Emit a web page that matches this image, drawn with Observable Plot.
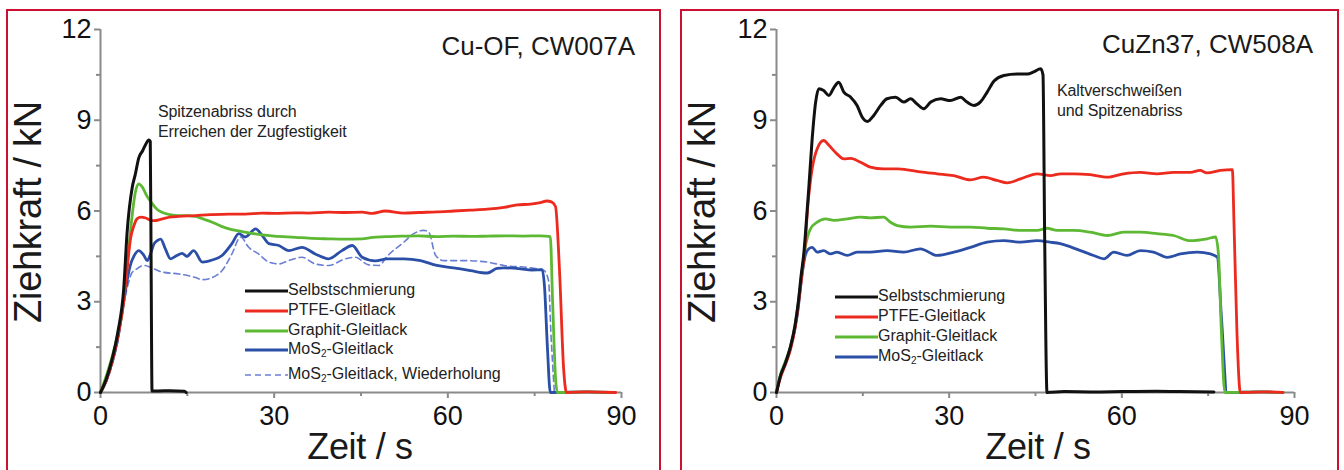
<!DOCTYPE html>
<html>
<head>
<meta charset="utf-8">
<script src="https://cdn.jsdelivr.net/npm/d3@7"></script>
<script src="https://cdn.jsdelivr.net/npm/@observablehq/plot@0.6"></script>
<style>
  html, body { margin: 0; padding: 0; background: #fff; }
  #wrap { position: relative; width: 1344px; height: 470px; overflow: hidden; font-family: "Liberation Sans", Arial, sans-serif; color: #1a1a1a; }
  .panel { position: absolute; top: 0; }
  .frame { position: absolute; box-sizing: border-box; border: 2px solid #cc1130; border-bottom: none; height: 480px; }
  .ttl { position: absolute; font-size: 26px; line-height: 26px; white-space: nowrap; letter-spacing: 0; }
  .ann { position: absolute; font-size: 16px; line-height: 20px; white-space: nowrap; letter-spacing: -0.1px; color: #222; }
  .ylab { position: absolute; font-size: 38px; line-height: 38px; white-space: nowrap; transform: translate(-50%, -50%) rotate(-90deg); letter-spacing: -0.3px; }
  .xlab { position: absolute; font-size: 36px; line-height: 36px; white-space: nowrap; transform: translateX(-50%); letter-spacing: -0.3px; }
  .leg { position: absolute; display: flex; align-items: center; height: 20px; font-size: 16px; line-height: 20px; white-space: nowrap; letter-spacing: 0; color: #222; }
  .leg span { position: relative; top: -1px; }
  .leg svg { display: block; }
  .leg sub { font-size: 10px; vertical-align: -3px; line-height: 0; }
</style>
</head>
<body>
<div id="wrap"></div>
<script>
// ---------- tick labels ----------
const xMajor = [0, 30, 60, 90];
const xMinor = [15, 45, 75];
const yMajor = [0, 3, 6, 9, 12];
const yMinor = [1.5, 4.5, 7.5, 10.5];

// ---------- series names ----------
const seriesNames = ["Selbstschmierung", "PTFE-Gleitlack", "Graphit-Gleitlack", "MoS2-Gleitlack", "MoS2-Gleitlack, Wiederholung"];
const panelTitles = ["Cu-OF, CW007A", "CuZn37, CW508A"];
const annotations = [["Spitzenabriss durch", "Erreichen der Zugfestigkeit"], ["Kaltverschweißen", "und Spitzenabriss"]];
const xTitle = "Zeit / s";
const yTitle = "Ziehkraft / kN";

// ---------- left panel data: [Zeit s, Ziehkraft kN] ----------
const leftSelbst = [[0,0],[1,0.45],[2,1.1],[3,2.0],[4,3.4],[4.6,5.3],[5.5,6.8],[6.0,7.2],[6.6,7.75],[7.3,8.0],[7.8,8.2],[8.35,8.35],[8.6,8.3],[8.75,4.0],[8.9,0.05],[10,0.05],[12,0.06],[14.5,0.04],[14.8,0]];
const leftPTFE = [[0,0],[1,0.4],[2,1.0],[3,1.85],[4,3.0],[4.6,4.1],[5.2,5.1],[5.75,5.5],[6.3,5.74],[7.0,5.8],[7.8,5.77],[8.6,5.7],[9.2,5.68],[10.7,5.74],[12,5.8],[13.5,5.82],[16.4,5.85],[19,5.88],[22.2,5.9],[25,5.9],[27.9,5.93],[30,5.92],[33.7,5.94],[36,5.93],[39.4,5.96],[42,5.95],[45.2,5.96],[47,5.92],[49.2,6.0],[52.4,5.93],[55,5.95],[58.1,5.97],[61,6.0],[63.9,6.03],[66.8,6.06],[69.7,6.12],[72,6.2],[74.3,6.23],[76,6.28],[77.1,6.33],[77.9,6.3],[78.6,6.15],[79.3,4.0],[80.0,0.8],[80.5,0],[84,0.02],[89,0]];
const leftGraphit = [[0,0],[1,0.55],[2,1.17],[3,1.95],[3.7,2.6],[4.3,3.6],[4.9,4.8],[5.5,5.9],[6.0,6.6],[6.6,6.9],[7.2,6.8],[8.0,6.5],[8.9,6.25],[9.8,6.05],[10.7,5.95],[12,5.88],[13.5,5.85],[15,5.85],[16.4,5.82],[18,5.72],[19.3,5.63],[20.8,5.5],[22.2,5.41],[23.6,5.35],[25,5.3],[27.9,5.21],[30,5.17],[33.7,5.13],[36,5.1],[39.4,5.08],[42,5.07],[45.2,5.08],[47,5.13],[49.2,5.15],[52,5.17],[55,5.18],[58,5.15],[61,5.17],[64,5.16],[67,5.17],[70,5.18],[73,5.17],[76,5.18],[77.7,5.15],[78.1,3.0],[78.6,0.5],[78.9,0],[84,0.02],[88,0]];
const leftMoS2 = [[0,0],[1,0.4],[2,1.0],[3,1.8],[4,3.0],[4.9,4.0],[5.3,4.3],[5.75,4.5],[6.6,4.69],[7.5,4.53],[8.06,4.36],[8.6,4.55],[9.2,4.9],[9.8,5.02],[10.4,5.07],[11.2,4.75],[12.1,4.42],[13.2,4.53],[14.1,4.6],[14.9,4.5],[16.1,4.69],[17.6,4.31],[19.3,4.38],[21,4.53],[22.7,4.92],[23.9,5.25],[25,5.14],[26.8,5.41],[27.9,5.2],[29.1,4.92],[30.8,4.86],[32.5,4.69],[34.8,4.8],[37.1,4.58],[39.4,4.42],[41.7,4.69],[43.5,4.86],[45.2,4.47],[47.5,4.35],[49.5,4.42],[52.4,4.42],[55.3,4.36],[58.1,4.2],[61,4.12],[63.9,4.03],[66.8,3.95],[68.5,4.1],[69.7,4.12],[72.6,4.09],[74.5,4.05],[76.3,4.06],[76.7,3.5],[77.2,1.5],[77.7,0],[84,0.02],[88,0]];
const leftMoS2Rep = [[0,0],[1,0.35],[2,0.9],[3,1.7],[4,2.9],[4.8,3.6],[5.4,3.95],[6.0,4.05],[7.5,4.2],[8.6,4.14],[10.7,3.98],[13.5,3.92],[16.4,3.8],[17.6,3.73],[19.3,3.8],[21,4.03],[22.7,4.58],[24.2,5.14],[25.6,4.8],[27.3,4.58],[29.1,4.31],[30.8,4.25],[32.5,4.36],[34.8,4.47],[37.1,4.25],[39.4,4.2],[42.3,4.42],[44,4.47],[46.3,4.22],[48.1,4.2],[49.5,4.5],[52.4,4.97],[54.1,5.25],[55.8,5.36],[56.7,5.3],[57.9,4.53],[59.3,4.36],[62.8,4.36],[66.8,4.31],[69.7,4.2],[74.3,4.12],[76.6,4.03],[77.4,3.7],[77.8,2.0],[78.4,0]];

// ---------- right panel data ----------
const rightSelbst = [[0,0],[0.7,0.56],[1.5,0.95],[2.4,1.5],[3.2,2.2],[3.8,3.0],[4.3,3.9],[4.75,4.6],[5.2,5.7],[5.6,6.73],[6.2,8.39],[6.8,9.6],[7.35,10.04],[8.2,9.98],[9.1,9.82],[10,10.09],[10.8,10.26],[11.7,9.93],[12.9,9.76],[14,9.49],[14.9,9.1],[15.8,8.96],[16.9,9.16],[18.1,9.49],[19.2,9.71],[20.7,9.76],[22.1,9.6],[23.3,9.71],[24.4,9.54],[25.6,9.38],[26.8,9.6],[28.5,9.71],[30.2,9.65],[32,9.76],[33.1,9.6],[34.3,9.49],[35.4,9.6],[36.6,9.93],[37.8,10.3],[39.5,10.48],[41.8,10.53],[43.6,10.53],[44.7,10.6],[45.9,10.7],[46.3,10.5],[46.6,5],[47.0,0],[50,0.03],[55,0.02],[60,0.03],[66,0.04],[70,0.03],[76,0.02]];
const rightPTFE = [[0,0],[0.7,0.5],[1.5,0.9],[2.4,1.4],[3.2,2.1],[3.8,2.9],[4.3,3.7],[4.9,4.7],[5.45,6.18],[6.2,7.4],[7.07,8.06],[8.2,8.33],[9.1,8.17],[10.5,7.89],[11.7,7.72],[12.9,7.74],[14.6,7.61],[16.3,7.45],[18.6,7.39],[21,7.39],[23.3,7.34],[25,7.29],[27.9,7.23],[30.8,7.17],[33.7,7.03],[36,7.12],[38.3,7.01],[40.1,6.93],[42.4,7.06],[45.3,7.23],[47.6,7.17],[49.4,7.23],[51.7,7.23],[54.5,7.2],[57.5,7.12],[60.3,7.23],[63.2,7.28],[66.1,7.23],[69,7.28],[71.9,7.28],[73.6,7.34],[74.8,7.26],[77.1,7.34],[79.2,7.37],[79.5,5.5],[80.0,2],[80.6,0],[85,0.02],[88,0]];
const rightGraphit = [[0,0],[0.7,0.6],[1.5,1.0],[2.4,1.5],[3.2,2.2],[3.8,3.0],[4.3,3.8],[4.9,4.7],[5.4,5.15],[5.9,5.41],[7.07,5.63],[8.5,5.74],[10,5.69],[12.3,5.74],[14.6,5.8],[16.3,5.77],[18.6,5.8],[19.8,5.63],[21,5.52],[23.3,5.47],[26.8,5.5],[30.2,5.47],[33.7,5.47],[36.6,5.43],[39.5,5.41],[42.4,5.36],[45.3,5.36],[47,5.43],[48.8,5.36],[51.7,5.36],[54.5,5.3],[57.5,5.19],[60.3,5.3],[63.2,5.3],[66.1,5.25],[69,5.19],[71.9,5.02],[74.8,5.08],[76.3,5.14],[76.8,4.53],[77.3,2.0],[77.9,0],[84,0.02],[88,0]];
const rightMoS2 = [[0,0],[0.7,0.56],[1.5,0.95],[2.4,1.45],[3.6,2.55],[4.5,3.98],[5.0,4.53],[5.6,4.75],[6.2,4.8],[7.07,4.64],[8.2,4.69],[9.4,4.58],[10.5,4.64],[12.3,4.53],[14,4.64],[16.3,4.64],[19.2,4.69],[22.1,4.64],[25,4.75],[27.9,4.53],[30.8,4.64],[33.7,4.8],[36.6,4.97],[39.5,5.02],[42.4,4.97],[45.3,5.02],[47.5,4.97],[49.3,4.92],[52.8,4.69],[55.1,4.53],[56.9,4.42],[58.6,4.64],[60.9,4.53],[63.2,4.69],[65.5,4.64],[67.9,4.47],[70.2,4.58],[73.1,4.64],[75.4,4.58],[76.6,4.47],[77.3,2.5],[78.3,0],[84,0.02],[88,0]];

// ---------- styles ----------
const COL = { self: "#111111", ptfe: "#ec2a1e", graphit: "#5db933", mos2: "#2b4fa6", rep: "#6a7fd4" };
const AXIS = "#8a8a8a";
const FONT = '"Liberation Sans", Arial, sans-serif';

const wrap = document.getElementById("wrap");

function makePanel(cfg) {
  const series = [
    ...(cfg.rep ? [{ d: cfg.rep, stroke: COL.rep, w: 1.6, dash: "6,4" }] : []),
    { d: cfg.mos2, stroke: COL.mos2, w: 2.8 },
    { d: cfg.graphit, stroke: COL.graphit, w: 2.8 },
    { d: cfg.ptfe, stroke: COL.ptfe, w: 2.8 },
    { d: cfg.self, stroke: COL.self, w: 3 }
  ];
  const chart = Plot.plot({
    width: cfg.width, height: 470,
    marginLeft: cfg.ml, marginRight: cfg.mr, marginTop: 29, marginBottom: 78,
    x: { domain: [0, 90] },
    y: { domain: [0, 12] },
    style: { fontFamily: FONT, background: "transparent", overflow: "visible" },
    marks: [
      Plot.axisX({ ticks: xMinor, tickSize: 4, text: null, label: null, stroke: AXIS, strokeWidth: 2 }),
      Plot.axisY({ ticks: yMinor, tickSize: 4, text: null, label: null, stroke: AXIS, strokeWidth: 2 }),
      Plot.axisX({ ticks: xMajor, tickSize: 6, tickPadding: 7, fontSize: 27, label: null, stroke: AXIS, fill: "#111", strokeWidth: 2, tickFormat: d => String(d) }),
      Plot.axisY({ ticks: yMajor, tickSize: 6, tickPadding: 3, fontSize: 27, label: null, stroke: AXIS, fill: "#111", strokeWidth: 2, tickFormat: d => String(d) }),
      Plot.ruleY([0], { stroke: AXIS, strokeWidth: 2 }),
      Plot.ruleX([0], { stroke: AXIS, strokeWidth: 2 }),
      ...series.map(s => Plot.line(s.d, { x: d => d[0], y: d => d[1], stroke: s.stroke, strokeWidth: s.w, strokeDasharray: s.dash, strokeLinejoin: "round", curve: "monotone-x" }))
    ]
  });
  chart.classList.add("panel");
  chart.style.left = cfg.left + "px";
  wrap.appendChild(chart);
}

makePanel({ left: 0, width: 665, ml: 100, mr: 44, self: leftSelbst, ptfe: leftPTFE, graphit: leftGraphit, mos2: leftMoS2, rep: leftMoS2Rep });
makePanel({ left: 670, width: 674, ml: 106, mr: 50, self: rightSelbst, ptfe: rightPTFE, graphit: rightGraphit, mos2: rightMoS2 });

function el(cls, html, css) {
  const d = document.createElement("div");
  d.className = cls;
  d.innerHTML = html;
  Object.assign(d.style, css);
  wrap.appendChild(d);
  return d;
}
// frames
el("frame", "", { left: "6px", top: "9px", width: "655px" });
el("frame", "", { left: "680px", top: "9px", width: "659px" });
// titles
el("ttl", panelTitles[0], { right: (1344 - 635) + "px", top: "33px" });
el("ttl", panelTitles[1], { right: (1344 - 1313) + "px", top: "31px" });
// annotations
el("ann", annotations[0].join("<br>"), { left: "158px", top: "102px" });
el("ann", annotations[1].join("<br>"), { left: "1057px", top: "81px" });
// axis titles
el("ylab", yTitle, { left: "28px", top: "212px" });
el("ylab", yTitle, { left: "702px", top: "212px" });
el("xlab", xTitle, { left: "360px", top: "429px" });
el("xlab", xTitle, { left: "1038px", top: "429px" });

// legends
function fmt(name) { return name.replace("MoS2", "MoS<sub>2</sub>"); }
function legendRow(x, y, name, stroke, w, dash) {
  const svg = `<svg width="43" height="20"><line x1="0" x2="43" y1="10" y2="10" stroke="${stroke}" stroke-width="${w}" ${dash ? `stroke-dasharray="${dash}"` : ""}/></svg>`;
  el("leg", svg + `<span>${fmt(name)}</span>`, { left: x + "px", top: (y - 10) + "px" });
}
const legStyles = [[COL.self, 3], [COL.ptfe, 2.8], [COL.graphit, 2.8], [COL.mos2, 2.8], [COL.rep, 1.6, "6,4"]];
const leftLegY = [291, 311, 331, 350, 375];
seriesNames.forEach((n, i) => legendRow(245, leftLegY[i], n, ...legStyles[i]));
const rightLegY = [297, 317, 337, 357];
seriesNames.slice(0, 4).forEach((n, i) => legendRow(835, rightLegY[i], n, ...legStyles[i]));
</script>
</body>
</html>
